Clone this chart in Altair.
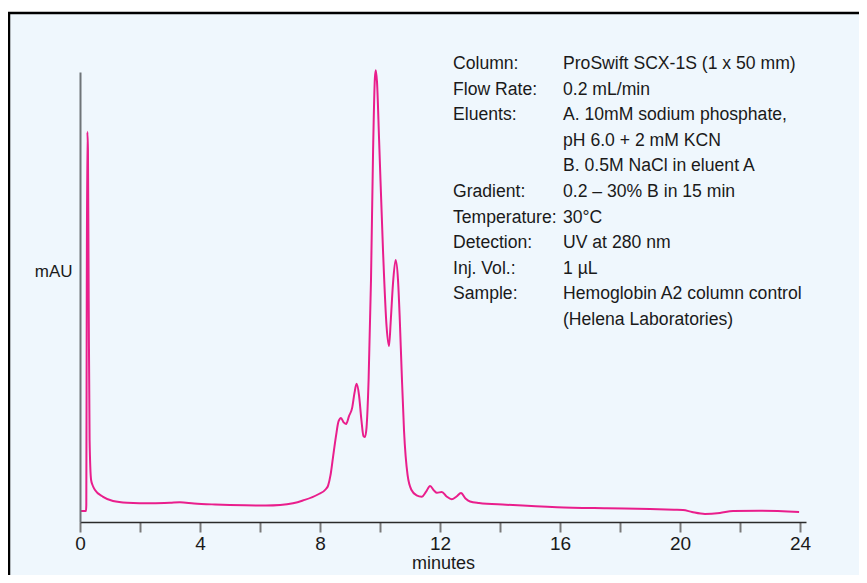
import altair as alt
import pandas as pd

# Chromatogram trace (minutes, mAU)
time_min = [0.00, 0.20, 0.21, 0.225, 0.245, 0.265, 0.29, 0.32, 0.37, 0.43, 0.50, 0.77, 1.10, 1.57,
            2.40, 3.00, 3.33, 3.80, 4.50, 5.50, 6.20, 6.67, 7.10, 7.43, 7.93, 8.20, 8.27, 8.35,
            8.43, 8.53, 8.62, 8.70, 8.78, 8.87, 8.97, 9.07, 9.15, 9.22, 9.30, 9.38, 9.45, 9.50,
            9.55, 9.62, 9.70, 9.77, 9.83, 9.86, 9.90, 9.97, 10.10, 10.22, 10.30, 10.36, 10.43,
            10.52, 10.60, 10.66, 10.72, 10.80, 10.92, 11.05, 11.22, 11.39, 11.53, 11.67, 11.80,
            11.90, 12.06, 12.22, 12.39, 12.55, 12.70, 12.85, 13.00, 13.30, 14.20, 15.90, 17.56,
            19.00, 19.80, 20.10, 20.40, 20.83, 21.33, 21.77, 22.67, 23.97]
absorbance = [2.44, 2.44, 3.78, 49.3, 86.7, 82.7, 49.3, 18.2, 9.33, 8.0, 7.1, 5.6, 4.67, 4.29,
              4.16, 4.27, 4.38, 4.11, 3.89, 3.71, 3.67, 3.78, 4.16, 4.78, 6.11, 7.33, 8.1, 10.4,
              14.2, 18.96, 22.4, 23.1, 22.2, 21.8, 23.6, 25.3, 28.7, 30.7, 28.2, 22.7, 19.1, 18.9,
              20.9, 31.6, 53.8, 82.7, 98.7, 100.4, 97.8, 84.9, 60.4, 43.4, 39.1, 44.9, 52.7,
              58.2, 53.8, 44.9, 33.8, 20.4, 10.4, 7.1, 5.9, 5.6, 6.67, 8.0, 7.0,
              6.5, 6.67, 5.67, 5.04, 5.67, 6.44, 5.22, 4.56, 4.22, 3.84, 3.27, 3.04,
              2.89, 2.73, 2.67, 2.22, 1.78, 2.0, 2.44, 2.51, 2.22]

tick_values = [0, 2, 4, 6, 8, 10, 12, 14, 16, 18, 20, 22, 24]

param_names = ["Column:", "Flow Rate:", "Eluents:", "", "", "Gradient:", "Temperature:",
               "Detection:", "Inj. Vol.:", "Sample:", ""]
param_values = ["ProSwift SCX-1S (1 x 50 mm)", "0.2 mL/min", "A. 10mM sodium phosphate,",
                "pH 6.0 + 2 mM KCN", "B. 0.5M NaCl in eluent A", "0.2 \u2013 30% B in 15 min",
                "30\u00b0C", "UV at 280 nm", "1 \u00b5L", "Hemoglobin A2 column control",
                "(Helena Laboratories)"]

FONT = "Liberation Sans"
BG = "#EFF7FD"
PINK = "#E91E8C"

W, H = 726, 450
PAD_R, PAD_B = 53, 53

trace = pd.DataFrame({"t": time_min, "v": absorbance})
info = pd.DataFrame({"name": param_names, "val": param_values,
                     "line": list(range(len(param_names)))})

panel = alt.Chart(pd.DataFrame({"a": [0]})).mark_rect(color=BG).encode(
    x=alt.value(-72), x2=alt.value(W + PAD_R), y=alt.value(-59), y2=alt.value(H + PAD_B)
)
border_top = alt.Chart(pd.DataFrame({"a": [0]})).mark_rule(color="black", strokeWidth=2.5).encode(
    x=alt.value(-72), x2=alt.value(W + PAD_R), y=alt.value(-59)
)
border_left = alt.Chart(pd.DataFrame({"a": [0]})).mark_rule(color="black", strokeWidth=2.5).encode(
    x=alt.value(-71), y=alt.value(-59), y2=alt.value(H + PAD_B)
)

line = alt.Chart(trace).mark_line(color=PINK, strokeWidth=2, interpolate="monotone").encode(
    x=alt.X("t:Q", scale=alt.Scale(domain=[0, 24.2], nice=False, zero=False),
            axis=alt.Axis(values=tick_values, title="minutes", zindex=2,
                          labelExpr="datum.value % 4 == 0 ? datum.label : ''",
                          labelFlush=False, labelOverlap=False,
                          grid=False, domainColor="#2a2a2a", domainWidth=1.5,
                          tickColor="#7a7a7a", tickWidth=2, tickSize=10,
                          labelFont=FONT, labelFontSize=19, labelColor="#1a1a1a",
                          labelPadding=2, titleFont=FONT, titleFontSize=18,
                          titleFontWeight="normal", titleColor="#1a1a1a",
                          titleBaseline="alphabetic", titleY=46)),
    y=alt.Y("v:Q", scale=alt.Scale(domain=[0, 100], nice=False, zero=False),
            axis=alt.Axis(title="mAU", ticks=False, labels=False, grid=False, zindex=2,
                          domainColor="#6f7478", domainWidth=2,
                          titleAngle=0, titleAlign="right", titleBaseline="middle",
                          titleX=-8, titleY=199, titleFont=FONT, titleFontSize=17,
                          titleFontWeight="normal", titleColor="#1a1a1a")),
)

names = alt.Chart(info).mark_text(align="left", baseline="middle", font=FONT,
                                   fontSize=17.6, color="#1a1a1a").transform_calculate(
    ypx="-8 + datum.line * 25.6"
).encode(x=alt.value(373), y=alt.Y("ypx:Q", scale=None), text="name:N")

values = alt.Chart(info).mark_text(align="left", baseline="middle", font=FONT,
                                    fontSize=17.6, color="#1a1a1a").transform_calculate(
    ypx="-8 + datum.line * 25.6"
).encode(x=alt.value(483), y=alt.Y("ypx:Q", scale=None), text="val:N")

chart = alt.layer(panel, border_top, border_left, line, names, values).properties(
    width=W, height=H,
    autosize=alt.AutoSizeParams(type="none"),
    padding={"left": 72, "top": 64, "right": PAD_R, "bottom": PAD_B},
    background="white",
).configure_view(stroke=None)

chart.save("out.html", embed_options={"renderer": "svg", "actions": False})
